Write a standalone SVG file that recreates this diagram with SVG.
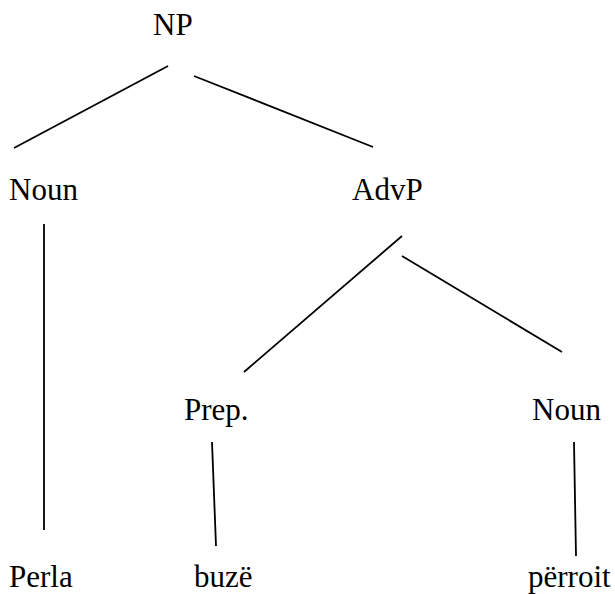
<svg xmlns="http://www.w3.org/2000/svg" width="615" height="594" viewBox="0 0 615 594">
  <style>
    .lbl { font-family: "Liberation Serif", "Times New Roman", serif; font-size: 31px; fill: #000; }
    .edge { stroke: #000; stroke-width: 1.8; fill: none; stroke-linecap: butt; }
  </style>
  <rect width="615" height="594" fill="#fff"/>

  <!-- connectors -->
  <g id="edges">
    <line class="edge" x1="168" y1="66" x2="14" y2="148"/>
    <line class="edge" x1="194" y1="76" x2="373" y2="147"/>
    <line class="edge" x1="44" y1="224" x2="44" y2="530"/>
    <line class="edge" x1="402" y1="236" x2="244" y2="372"/>
    <line class="edge" x1="402" y1="256" x2="562" y2="352"/>
    <line class="edge" x1="212" y1="442" x2="216" y2="546"/>
    <line class="edge" x1="574" y1="442" x2="576" y2="556"/>
  </g>

  <!-- nodes -->
  <g id="np"><text class="lbl" x="153" y="35">NP</text></g>
  <g id="noun1"><text class="lbl" x="9" y="200">Noun</text></g>
  <g id="advp"><text class="lbl" x="352" y="200">AdvP</text></g>
  <g id="prep"><text class="lbl" x="184" y="420">Prep.</text></g>
  <g id="noun2"><text class="lbl" x="532" y="420">Noun</text></g>
  <g id="perla"><text class="lbl" x="9" y="587">Perla</text></g>
  <g id="buze"><text class="lbl" x="194" y="587">buzë</text></g>
  <g id="perroit"><text class="lbl" x="528" y="587">përroit</text></g>
</svg>
